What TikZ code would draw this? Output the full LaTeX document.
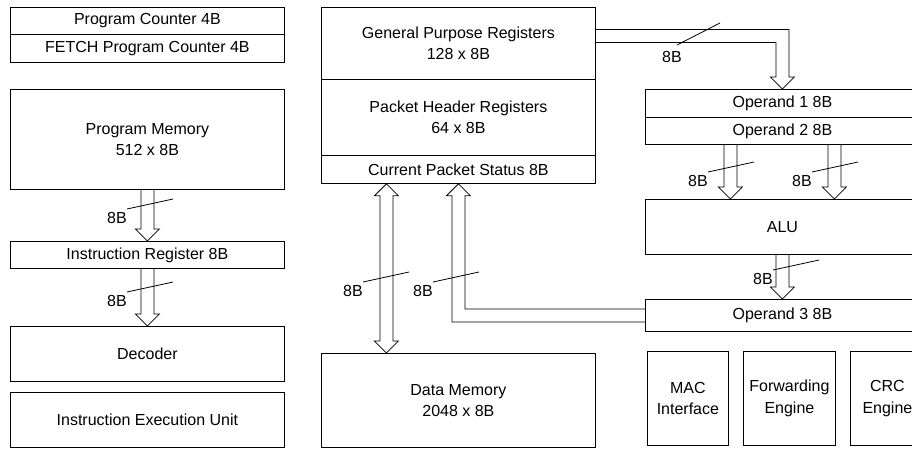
\documentclass[tikz,border=0pt]{standalone}
\usepackage{fontspec}
\setmainfont{Liberation Sans}
\usetikzlibrary{calc}

% hollow bus arrow going down from #2 to #3, shifted by #1
\newcommand\busdown[3][0]{%
  \draw[bus] let \p1=($(#2.south)+(#1,0)$), \p2=(#3.north) in
    (\x1-\bw,\y1) -- (\x1-\bw,\y2+\hl) -- (\x1-\hw,\y2+\hl) -- (\x1,\y2)
    -- (\x1+\hw,\y2+\hl) -- (\x1+\bw,\y2+\hl) -- (\x1+\bw,\y1);}

% bus width mark with its label
\newcommand\busmark[3]{%
  \draw (#1,#2) -- ++(46,-10);
  \node[wlabel] (#3) at ($(#1,#2)+(-10,9)$) {8B};}

\begin{document}
\begin{tikzpicture}[x=1pt,y=-1pt,line width=0.8pt,
  font=\fontsize{16}{21.5}\selectfont,
  blk/.style={draw,rectangle,inner sep=0pt,align=center,anchor=north west},
  bus/.style={line join=miter},
  wlabel/.style={inner sep=0pt}]

\def\bw{6.5pt}
\def\hw{12pt}
\def\hl{12pt}

\clip (0,0) rectangle (912,448);

% Program side
\node[blk,minimum width=274,minimum height=27] (pc) at (10,7) {Program Counter 4B};
\node[blk,minimum width=274,minimum height=28] (fpc) at (10,34) {FETCH Program Counter 4B};
\node[blk,minimum width=274,minimum height=100] (pm) at (10,89) {Program Memory\\512 x 8B};
\node[blk,minimum width=274,minimum height=27] (ir) at (10,241) {Instruction Register 8B};
\node[blk,minimum width=274,minimum height=55] (dec) at (10,326) {Decoder};
\node[blk,minimum width=274,minimum height=55] (ieu) at (10,392) {Instruction Execution Unit};

% Registers and data memory
\node[blk,minimum width=274,minimum height=72] (gpr) at (321,7) {General Purpose Registers\\128 x 8B};
\node[blk,minimum width=274,minimum height=76] (phr) at (321,79) {Packet Header Registers\\64 x 8B};
\node[blk,minimum width=274,minimum height=28] (cps) at (321,155) {Current Packet Status 8B};
\node[blk,minimum width=274,minimum height=94] (dm) at (321,353) {Data Memory\\2048 x 8B};

% Operands and ALU
\node[blk,minimum width=274,minimum height=28] (op1) at (645,89) {Operand 1 8B};
\node[blk,minimum width=274,minimum height=27] (op2) at (645,117) {Operand 2 8B};
\node[blk,minimum width=274,minimum height=55] (alu) at (645,199) {ALU};
\node[blk,minimum width=274,minimum height=32] (op3) at (645,299) {Operand 3 8B};

% Engines
\node[blk,minimum width=81,minimum height=94] (mac) at (647,351) {MAC\\Interface};
\node[blk,minimum width=92,minimum height=94] (fwd) at (743,351) {Forwarding\\Engine};
\node[blk,minimum width=74,minimum height=94] (crc) at (850,351) {CRC\\Engine};

% Instruction buses
\busdown{pm}{ir}
\busdown{ir}{dec}
\busmark{127}{209}{w1}
\busmark{127}{292}{w2}

% Data memory bus
\draw[bus] let \p1=($(cps.south)+(-72,0)$), \p2=($(dm.north)+(-72,0)$) in
  (\x1,\y1) -- (\x1+\hw,\y1-\hl) -- (\x1+\bw,\y1-\hl) -- (\x2+\bw,\y2+\hl)
  -- (\x2+\hw,\y2+\hl) -- (\x2,\y2) -- (\x2-\hw,\y2+\hl) -- (\x2-\bw,\y2+\hl)
  -- (\x1-\bw,\y1-\hl) -- (\x1-\hw,\y1-\hl) -- cycle;
\busmark{363}{282}{w3}

% Result bus back to status
\draw[bus] let \p1=(op3.west), \p2=(cps.south) in
  (\x1,\y1-\bw) -- (\x2-\bw,\y1-\bw) -- (\x2-\bw,\y2-\hl) -- (\x2-\hw,\y2-\hl)
  -- (\x2,\y2) -- (\x2+\hw,\y2-\hl) -- (\x2+\bw,\y2-\hl) -- (\x2+\bw,\y1+\bw)
  -- (\x1,\y1+\bw);
\busmark{433}{282}{w4}

% Register bus to operand 1
\draw[bus] let \p1=($(gpr.east)+(0,-7.5)$), \p2=(op1.north) in
  (\x1,\y1+\bw) -- (\x2+\bw,\y1+\bw) -- (\x2+\bw,\y2+\hl) -- (\x2+\hw,\y2+\hl)
  -- (\x2,\y2) -- (\x2-\hw,\y2+\hl) -- (\x2-\bw,\y2+\hl) -- (\x2-\bw,\y1-\bw)
  -- (\x1,\y1-\bw);
\draw (677,45) -- (720,23);
\node[wlabel] (w5) at (672,57) {8B};

% ALU buses
\busdown[-52]{op2}{alu}
\busdown[52]{op2}{alu}
\busdown{alu}{op3}
\busmark{708}{172}{w6}
\busmark{812}{172}{w7}
\busmark{773}{270}{w8}

\end{tikzpicture}
\end{document}
